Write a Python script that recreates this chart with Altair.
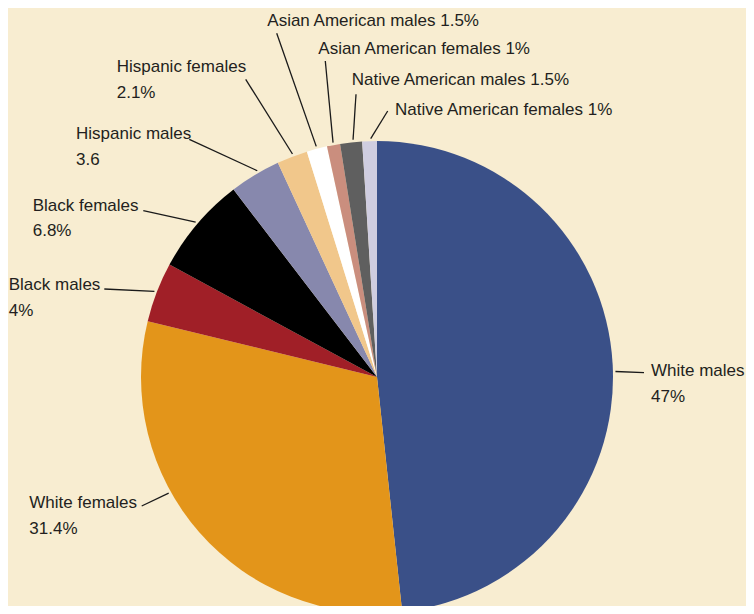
import math
import altair as alt
import pandas as pd

# ---- data ----
groups = ["White males", "White females", "Black males", "Black females",
          "Hispanic males", "Hispanic females", "Asian American males",
          "Asian American females", "Native American males", "Native American females"]
# slice shares as drawn
shares = [48.3, 30.5, 4.1, 6.7, 3.5, 2.1, 1.4, 0.9, 1.5, 1.0]
# label texts as printed
label_lines = [["White males", "47%"], ["White females", "31.4%"], ["Black males", "4%"],
               ["Black females", "6.8%"], ["Hispanic males", "3.6"], ["Hispanic females", "2.1%"],
               ["Asian American males 1.5%"], ["Asian American females 1%"],
               ["Native American males 1.5%"], ["Native American females 1%"]]
colors = ["#3a5088", "#e3951a", "#a01f27", "#000000", "#8788ad", "#f1c78b",
          "#ffffff", "#ca8e7e", "#5f5f5f", "#cfcde0"]

# ---- layout ----
W, H = 738, 598
CX, CY, R = 377, 377, 236
LEADER_R = 238.5
leader_frac = [0.51, 0.61, 0.5, 0.5, 0.58, 0.54, 0.5, 0.5, 0.6, 0.58]
leader_out = [(644, 372.7), (141.7, 506), (104.3, 289), (143.3, 210.7), (189.3, 139.3),
              (245.7, 79.3), (276.7, 33.3), (325.3, 61), (356, 94.3), (387.7, 111)]
label_pos = [(651, 376), (29.3, 508.3), (8.7, 290), (32.7, 210.7), (76, 139),
             (116.7, 72.3), (267.3, 26), (318.3, 54.3), (351.7, 85), (395, 115)]

total = sum(shares)
pie = pd.DataFrame({"group": groups, "share": shares, "idx": range(len(groups))})

rows = []
cum = 0.0
for i, g in enumerate(groups):
    a = 2 * math.pi * (cum + leader_frac[i] * shares[i]) / total
    cum += shares[i]
    rows.append({
        "group": g,
        "x1": CX + LEADER_R * math.sin(a), "y1": CY - LEADER_R * math.cos(a),
        "x2": leader_out[i][0], "y2": leader_out[i][1],
        "tx": label_pos[i][0], "ty": label_pos[i][1],
        "label": label_lines[i],
    })
ann = pd.DataFrame(rows)

xs = alt.Scale(domain=[8, 8 + W], nice=False, zero=False)
ys = alt.Scale(domain=[8, 8 + H], nice=False, zero=False, reverse=True)

arcs = alt.Chart(pie).mark_arc(radius=R).encode(
    theta=alt.Theta("share:Q", stack=True),
    order=alt.Order("idx:Q"),
    color=alt.Color("group:N", scale=alt.Scale(domain=groups, range=colors), legend=None),
    x=alt.datum(CX, scale=xs, axis=None),
    y=alt.datum(CY, scale=ys, axis=None),
)

leaders = alt.Chart(ann).mark_rule(color="#1a1a1a", strokeWidth=1.3).encode(
    x=alt.X("x1:Q", scale=xs, axis=None),
    y=alt.Y("y1:Q", scale=ys, axis=None),
    x2="x2:Q",
    y2="y2:Q",
)

labels = alt.Chart(ann).mark_text(
    align="left", baseline="alphabetic", font="Liberation Sans",
    fontSize=17, lineHeight=25.5, color="#231f20",
).encode(
    x=alt.X("tx:Q", scale=xs, axis=None),
    y=alt.Y("ty:Q", scale=ys, axis=None),
    text="label",
)

chart = alt.layer(arcs, leaders, labels).properties(
    width=W, height=H, background="#f8edd1",
    autosize=alt.AutoSizeParams(type="none"), padding=0,
).configure_view(stroke=None)

chart.save("out.html", embed_options={"renderer": "svg", "actions": False})
